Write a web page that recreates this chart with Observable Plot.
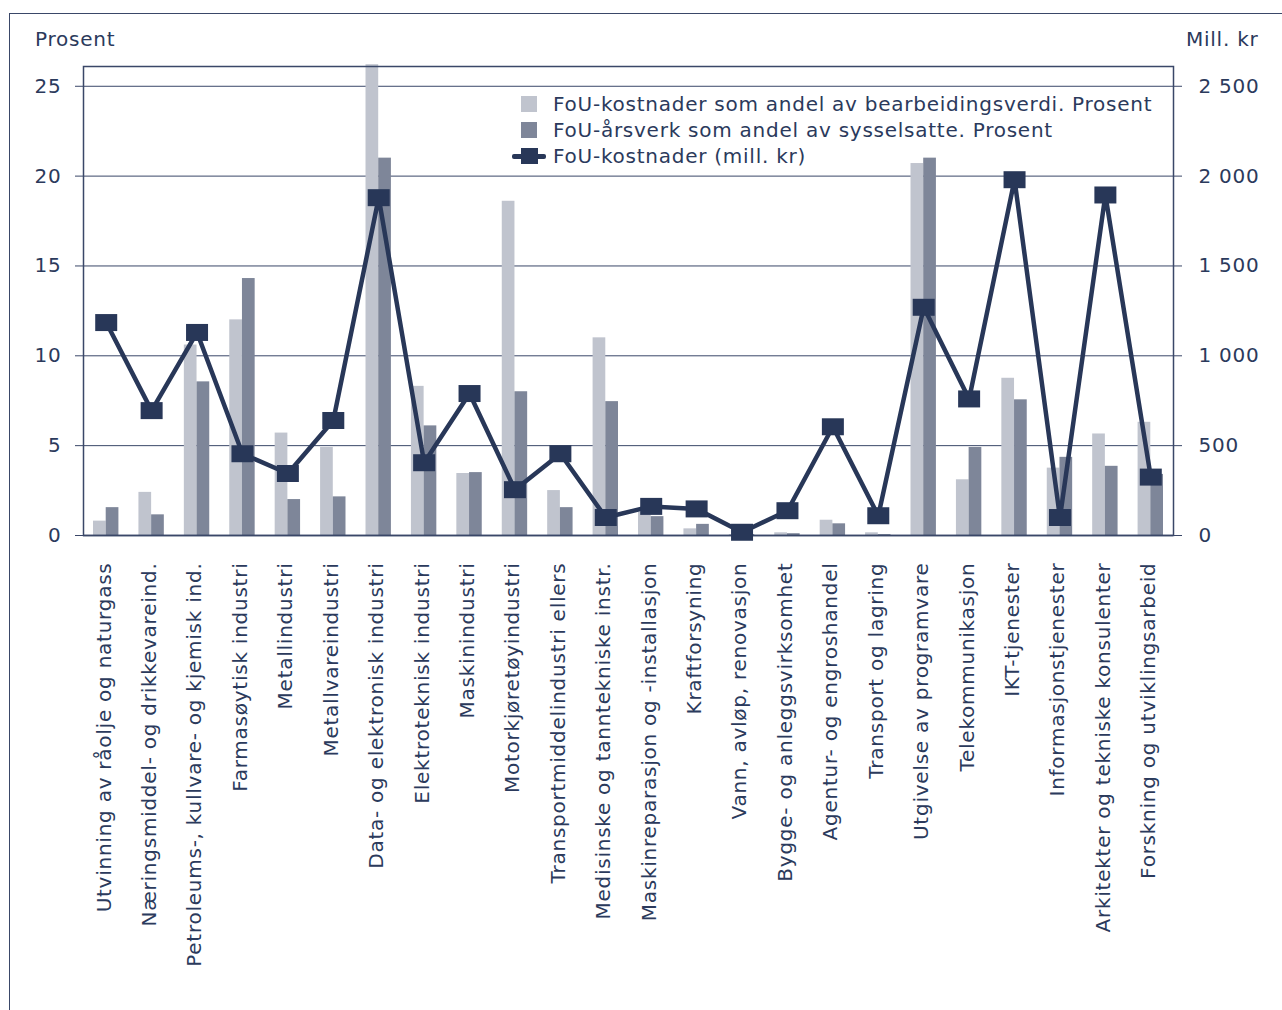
<!DOCTYPE html>
<html>
<head>
<meta charset="utf-8">
<script src="https://cdn.jsdelivr.net/npm/d3@7"></script>
<script src="https://cdn.jsdelivr.net/npm/@observablehq/plot@0.6"></script>
<style>
  html, body { margin: 0; padding: 0; background: #fff; }
  #wrap { position: relative; width: 1282px; height: 1010px; overflow: hidden; font-family: "DejaVu Sans", Verdana, sans-serif; color: #2b3a5c; letter-spacing: 0.75px; }
  #frame { position: absolute; left: 9px; top: 13px; width: 1300px; height: 1100px; border-top: 1.5px solid #3a4768; border-left: 1.5px solid #3a4768; }
  #chart { position: absolute; left: 0; top: 0; }
  .lbl { position: absolute; font-size: 20px; white-space: nowrap; }
  .leg { position: absolute; left: 512px; font-size: 20px; white-space: nowrap; }
  .leg .row { position: relative; height: 26px; line-height: 26px; padding-left: 41px; }
  .sw { position: absolute; left: 9px; top: 5px; width: 16px; height: 16px; }
  .lsw { position: absolute; left: 0; top: 11px; width: 34px; height: 5px; background: #283758; border-radius: 2px; }
  .lsq { position: absolute; left: 9px; top: 5px; width: 17px; height: 16px; background: #283758; }
</style>
</head>
<body>
<div id="wrap">
  <div id="frame"></div>
  <div id="chart"></div>
  <div class="lbl" style="left:35px;top:27px;">Prosent</div>
  <div class="lbl" style="left:1186px;top:27px;">Mill. kr</div>
  <div class="leg" style="top:91px;">
    <div class="row"><span class="sw" style="background:#c0c4ce"></span>FoU-kostnader som andel av bearbeidingsverdi. Prosent</div>
    <div class="row"><span class="sw" style="background:#7e8699"></span>FoU-årsverk som andel av sysselsatte. Prosent</div>
    <div class="row"><span class="lsw"></span><span class="lsq"></span>FoU-kostnader (mill. kr)</div>
  </div>
</div>
<script>
const categories = [
  "Utvinning av råolje og naturgass",
  "Næringsmiddel- og drikkevareind.",
  "Petroleums-, kullvare- og kjemisk ind.",
  "Farmasøytisk industri",
  "Metallindustri",
  "Metallvareindustri",
  "Data- og elektronisk industri",
  "Elektroteknisk industri",
  "Maskinindustri",
  "Motorkjøretøyindustri",
  "Transportmiddelindustri ellers",
  "Medisinske og tanntekniske instr.",
  "Maskinreparasjon og -installasjon",
  "Kraftforsyning",
  "Vann, avløp, renovasjon",
  "Bygge- og anleggsvirksomhet",
  "Agentur- og engroshandel",
  "Transport og lagring",
  "Utgivelse av programvare",
  "Telekommunikasjon",
  "IKT-tjenester",
  "Informasjonstjenester",
  "Arkitekter og tekniske konsulenter",
  "Forskning og utviklingsarbeid"
];
// FoU-kostnader som andel av bearbeidingsverdi (prosent)
const costShare = [0.8, 2.4, 10.6, 12.0, 5.7, 4.9, 26.2, 8.3, 3.45, 18.6, 2.5, 11.0, 1.3, 0.37, 0.05, 0.15, 0.85, 0.15, 20.7, 3.1, 8.75, 3.75, 5.65, 6.3];
// FoU-årsverk som andel av sysselsatte (prosent)
const laborShare = [1.55, 1.15, 8.55, 14.3, 2.0, 2.15, 21.0, 6.1, 3.5, 8.0, 1.55, 7.45, 1.05, 0.62, 0.05, 0.1, 0.65, 0.05, 21.0, 4.9, 7.55, 4.35, 3.85, 3.4];
// FoU-kostnader (mill. kr)
const rdCost = [1185, 695, 1130, 455, 345, 640, 1880, 405, 790, 255, 455, 100, 162, 148, 18, 138, 605, 110, 1270, 760, 1980, 100, 1895, 325];
const leftTicks = [0, 5, 10, 15, 20, 25];

const navy = "#283758";
const textNavy = "#2b3a5c";
const lightBar = "#c0c4ce";
const darkBar = "#7e8699";

const bars1 = categories.map((c, i) => ({cat: c, v: costShare[i]}));
const bars2 = categories.map((c, i) => ({cat: c, v: laborShare[i]}));
const line = categories.map((c, i) => ({cat: c, v: rdCost[i]}));

const W = 1282, H = 1010;
const mL = 83, mR = W - 1173, mT = 66, mB = H - 535;
const band = (W - mL - mR) / categories.length;
const barW = 12.7;

const rectSymbol = { draw(ctx) { ctx.rect(-11, -8.5, 22, 17); } };
const fmtRight = d => (d * 100) >= 1000 ? d3.format(",")(d * 100).replace(",", "\u00a0") : String(d * 100);

const chart = Plot.plot({
  width: W,
  height: H,
  marginLeft: mL,
  marginRight: mR,
  marginTop: mT,
  marginBottom: mB,
  style: { fontFamily: "'DejaVu Sans', Verdana, sans-serif", fontSize: "20px", color: textNavy, background: "transparent", letterSpacing: "0.75px" },
  x: { type: "band", domain: categories, padding: 0, round: false, label: null },
  y: { domain: [0, 26.1], label: null },
  marks: [
    Plot.ruleY(leftTicks.filter(t => t > 0), { stroke: "#3a4768", strokeWidth: 1 }),
    Plot.barY(bars1, { x: "cat", y: "v", fill: lightBar, insetLeft: band / 2 - barW, insetRight: band / 2 }),
    Plot.barY(bars2, { x: "cat", y: "v", fill: darkBar, insetLeft: band / 2, insetRight: band / 2 - barW }),
    Plot.frame({ stroke: "#3a4768", strokeWidth: 1.5 }),
    Plot.ruleY([0], { stroke: "#3a4768", strokeWidth: 1.5 }),
    Plot.axisY({ anchor: "left", ticks: leftTicks, tickSize: 8, tickPadding: 14, stroke: "#3a4768", fill: textNavy, label: null, fontSize: 20 }),
    Plot.axisY({ anchor: "right", ticks: leftTicks, tickSize: 8, tickPadding: 17, tickFormat: fmtRight, stroke: "#3a4768", fill: textNavy, label: null, fontSize: 20 }),
    Plot.axisX({ anchor: "bottom", tickRotate: -90, tickSize: 0, tickPadding: 27, dx: -2, fill: textNavy, label: null, fontSize: 20 }),
    Plot.line(line, { x: "cat", y: d => d.v / 100, stroke: navy, strokeWidth: 4.5, strokeLinejoin: "miter" }),
    Plot.dot(line, { x: "cat", y: d => d.v / 100, symbol: rectSymbol, fill: navy, stroke: "none" })
  ]
});
document.getElementById("chart").appendChild(chart);
</script>
</body>
</html>
